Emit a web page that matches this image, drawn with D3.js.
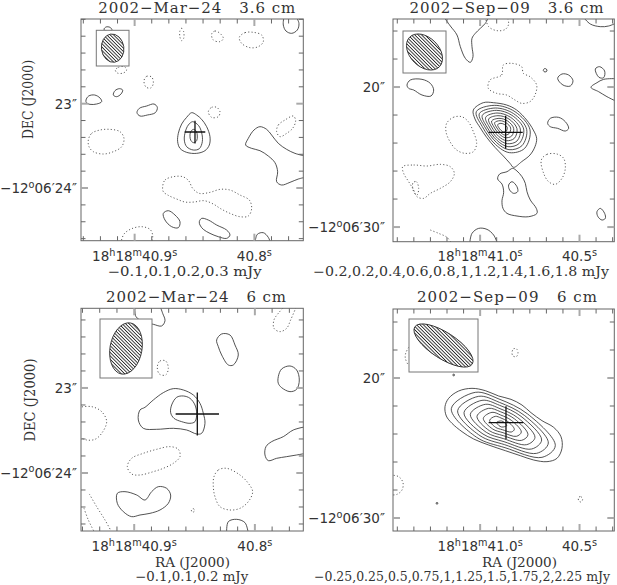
<!DOCTYPE html>
<html><head><meta charset="utf-8">
<script src="https://cdn.jsdelivr.net/npm/d3@7"></script>
<style>body{margin:0;background:#fff}svg{display:block}</style>
</head><body><svg id="c" width="617" height="585"></svg>
<script>
// ---------------- DATA ----------------
const titles = ["2002\u2212Mar\u221224   3.6 cm", "2002\u2212Sep\u221209   3.6 cm", "2002\u2212Mar\u221224   6 cm", "2002\u2212Sep\u221209   6 cm"];
const levelTexts = ["\u22120.1,0.1,0.2,0.3 mJy", "\u22120.2,0.2,0.4,0.6,0.8,1,1.2,1.4,1.6,1.8 mJy", "\u22120.1,0.1,0.2 mJy", "\u22120.25,0.25,0.5,0.75,1,1.25,1.5,1.75,2,2.25 mJy"];
const raMajor = [[40.9, 40.8], [41.0, 40.5], [40.9, 40.8], [41.0, 40.5]];   // RA seconds (18h18m..)
const raMinorStep = [0.1 / 7, 0.5 / 6, 0.1 / 7, 0.5 / 6];
const decMajor = [[23, 24], [20, 30], [23, 24], [20, 30]];                  // Dec arcsec (-12d06m..)
const decMinorStep = [0.2, 2, 0.2, 2];
// map WCS: reference pixel (source position), arcsec per map pixel, RA/Dec at reference pixel
const refPix = [[585, 396], [596, 397], [592, 372], [597, 398]];
const pixScale = [1 / 253, 1 / 42, 1 / 255, 1 / 42];
const refRA = [40.8496, 40.8715, 40.8477, 40.87];
const refDec = [23.336, 23.236, 23.306, 23.19];
const raArcsecPerSec = 14.2;
const mapBounds = [[243, 910, 57, 722], [258, 922, 57, 725], [243, 910, 55, 723], [258, 922, 57, 723]]; // pixel range shown
// beams: major, minor (arcsec), PA (deg)
const beams = [[0.337, 0.266, 8], [3.0, 2.07, 45], [0.61, 0.376, -10], [4.89, 1.86, 57]];
// source position error bars (arcsec): RA half-length, Dec half-length
const crossErr = [[0.122, 0.135], [1.22, 1.18], [0.255, 0.253], [1.24, 1.18]];

// contours in map pixel coordinates
const mar36Pos = [
  [[312,88],[318,81],[330,82],[336,90],[325,95]],
  [[340,285],[345,272],[358,266],[368,270],[363,282],[350,290]],
  [[258,300],[266,288],[284,285],[300,294],[305,305],[290,312],[270,313],[259,308]],
  [[411,338],[418,325],[440,318],[462,312],[472,322],[466,338],[442,345],[420,348]],
  [[575,338],[560,352],[545,372],[535,400],[533,425],[540,445],[560,457],[590,460],[615,452],[628,435],[630,410],[620,380],[605,358],[590,345]],
  [[578,365],[565,375],[556,395],[553,420],[560,440],[580,450],[598,446],[607,425],[605,398],[596,377]],
  [[581,388],[572,395],[570,410],[573,422],[581,428],[590,422],[592,408],[589,394]],
  [[490,640],[505,632],[525,645],[540,665],[535,683],[515,680],[495,660]],
  [[598,665],[605,655],[625,660],[650,675],[680,690],[690,705],[680,715],[655,710],[630,700],[610,688],[600,675]]
];
const mar36PosEdge = [
  [[852,50],[850,75],[858,93],[875,100],[892,90],[897,70],[888,50]],
  [[915,468],[885,460],[860,448],[835,430],[815,405],[800,388],[780,380],[762,390],[745,415],[737,435],[755,445],[780,452],[805,468],[825,488],[833,515],[830,545],[845,555],[870,547],[895,537],[915,532]],
  [[765,730],[772,703],[790,698],[805,712],[812,730]]
];
const mar36Neg = [
  [[540,92],[545,85],[551,95],[551,115],[545,122],[540,112]],
  [[635,102],[645,93],[660,100],[670,115],[660,125],[640,120]],
  [[718,112],[735,98],[760,97],[785,105],[790,125],[775,140],[750,143],[725,130]],
  [[346,210],[355,202],[373,200],[380,210],[370,219],[352,219]],
  [[432,242],[440,229],[455,231],[460,250],[452,264],[438,261]],
  [[625,335],[635,322],[650,322],[660,335],[655,350],[635,352]],
  [[830,395],[835,375],[855,360],[880,348],[887,362],[878,385],[860,400],[840,410]],
  [[265,420],[275,400],[300,390],[330,388],[360,395],[372,415],[365,440],[340,455],[310,462],[280,455],[267,440]],
  [[488,560],[495,540],[520,530],[548,530],[566,542],[578,565],[598,580],[630,577],[660,568],[690,570],[720,585],[748,600],[755,625],[745,648],[720,650],[690,640],[662,626],[640,612],[612,602],[582,606],[555,606],[530,597],[505,586],[490,575]]
];
const mar36NegEdge = [
  [[362,730],[372,702],[395,686],[425,680],[450,688],[458,705],[455,730]]
];

const sep36Pos = [
  [[712,206],[718,207],[720,213],[714,216],[709,212]],
  [[752,235],[765,222],[785,225],[798,242],[790,258],[768,255]],
  [[865,207],[878,200],[893,213],[890,233],[876,232]],
  [[300,255],[310,240],[345,238],[370,250],[380,270],[372,288],[345,285],[320,270],[305,265]],
  [[722,370],[730,355],[755,352],[775,365],[785,385],[775,393],[752,385],[730,380]],
  [[499,330],[529,308],[559,308],[599,315],[629,330],[659,360],[679,390],[689,415],[684,440],[669,465],[644,485],[620,502],[609,490],[589,468],[564,442],[539,412],[519,382],[504,357]],
  [[508,335],[562,316],[624,335],[669,389],[653,445],[608,458],[566,434],[526,380]],
  [[517,341],[565,324],[620,341],[659,388],[645,437],[606,449],[569,428],[533,380]],
  [[526,346],[568,331],[615,346],[650,387],[637,430],[603,440],[571,422],[540,381]],
  [[536,352],[570,339],[611,352],[640,387],[630,423],[601,431],[573,416],[547,381]],
  [[545,357],[573,347],[606,357],[630,386],[622,415],[598,422],[576,410],[554,381]],
  [[554,363],[576,355],[602,363],[620,385],[614,408],[595,413],[578,403],[561,381]],
  [[563,368],[579,362],[597,368],[611,384],[606,401],[593,405],[580,397],[568,381]],
  [[572,374],[582,370],[593,374],[601,383],[598,393],[590,396],[582,391],[575,382]],
  [[617,505],[600,515],[578,522],[572,537],[585,552],[590,577],[585,602],[588,625],[600,640],[630,648],[665,650],[690,640],[688,625],[670,600],[660,575],[655,550],[645,530],[630,513]],
  [[605,555],[615,545],[630,560],[632,575],[620,580],[608,570]],
  [[870,635],[880,625],[893,640],[895,655],[885,660],[873,650]]
];
const sep36PosEdge = [
  [[410,50],[430,78],[450,105],[460,140],[475,175],[490,187],[498,170],[495,140],[495,115],[505,100],[520,85],[535,70],[545,50]],
  [[828,50],[850,72],[880,80],[905,78],[930,68]],
  [[930,305],[900,290],[875,275],[852,262],[870,248],[890,238],[930,236]],
  [[488,732],[495,700],[515,685],[540,688],[560,705],[572,732]]
];
const sep36Neg = [
  [[549,240],[584,225],[589,195],[614,190],[644,200],[649,220],[669,230],[689,255],[684,285],[669,305],[644,310],[624,300],[599,285],[569,280],[544,265]],
  [[419,370],[439,352],[464,350],[484,365],[499,395],[509,430],[499,455],[474,460],[449,450],[429,425],[417,395]],
  [[287,500],[320,495],[360,498],[400,493],[430,500],[442,520],[430,545],[400,565],[370,580],[350,595],[330,590],[320,570],[305,545],[290,520]],
  [[318,548],[328,545],[335,565],[330,585],[320,575]],
  [[703,480],[720,463],[750,462],[770,475],[775,505],[765,535],[745,553],[725,545],[710,520]]
];
const sep36NegEdge = [
  [[535,50],[545,80],[570,92],[595,88],[605,72],[600,50]],
  [[370,690],[395,700],[420,712],[435,732]]
];

const mar6Pos = [
  [[650,150],[665,132],[690,135],[705,165],[715,195],[700,225],[685,225],[665,195],[655,170]],
  [[835,260],[845,237],[870,228],[890,240],[898,270],[890,298],[870,305],[845,293],[835,280]],
  [[420,360],[435,352],[460,330],[490,308],[520,296],[550,300],[580,315],[600,340],[610,370],[615,400],[605,430],[590,432],[560,420],[520,415],[470,418],[430,415],[415,390]],
  [[515,345],[530,322],[550,318],[570,325],[585,345],[590,370],[585,395],[570,400],[545,395],[522,385],[512,368]],
  [[352,610],[375,605],[410,615],[435,630],[455,605],[475,590],[500,595],[512,615],[505,640],[480,660],[450,670],[420,675],[395,680],[370,665],[352,640]]
];
const mar6PosEdge = [
  [[405,48],[408,80],[430,95],[460,103],[485,108],[495,92],[488,70],[480,48]],
  [[918,410],[880,420],[850,440],[815,455],[798,470],[795,495],[805,512],[830,505],[860,500],[890,495],[918,490]],
  [[680,730],[685,695],[710,688],[735,698],[745,730]]
];
const mar6Neg = [
  [[472,230],[480,213],[497,213],[505,235],[497,255],[478,252]],
  [[382,530],[395,505],[430,490],[470,478],[510,470],[535,478],[540,500],[520,520],[490,535],[460,545],[420,555],[395,552]],
  [[642,560],[655,540],[680,535],[720,555],[745,580],[758,605],[745,635],[720,655],[690,660],[660,650],[645,620],[640,590]],
  [[574,660],[580,656],[584,662],[578,667]]
];
const mar6NegEdge = [
  [[855,48],[835,70],[822,90],[822,115],[840,125],[860,115],[872,90],[890,48]],
  [[236,352],[275,350],[305,365],[320,395],[305,430],[285,448],[260,450],[236,440]],
  [[268,612],[290,650],[315,690],[337,730]],
  [[252,655],[265,690],[285,730]]
];

const sep6Pos = [
  [[414,350],[425,325],[455,303],[495,295],[535,302],[575,318],[612,328],[645,345],[672,368],[705,392],[740,412],[762,440],[765,475],[750,505],[720,515],[680,510],[640,497],[595,482],[545,465],[500,447],[465,425],[435,400],[418,378]],
  [[433,356],[505,307],[576,327],[662,372],[745,467],[705,502],[594,473],[509,442]],
  [[452,362],[515,319],[577,337],[652,376],[724,459],[689,490],[593,464],[519,437]],
  [[471,368],[525,331],[578,346],[642,379],[704,450],[674,477],[591,455],[528,432]],
  [[490,373],[535,343],[579,356],[632,383],[684,442],[659,464],[590,446],[538,427]],
  [[510,379],[545,355],[580,365],[623,387],[663,434],[644,451],[589,437],[547,422]],
  [[529,385],[555,367],[581,375],[613,391],[643,426],[628,439],[588,428],[557,417]],
  [[548,391],[565,379],[582,384],[603,395],[622,418],[613,426],[586,419],[566,412]],
  [[569,397],[575,394],[584,393],[593,398],[599,407],[593,410],[584,411],[575,406]],
  [[438,253],[442,253],[442,257],[438,257]],
  [[388,638],[392,638],[392,642],[388,642]]
];
const sep6PosEdge = [];
const sep6Neg = [
  [[615,188],[620,176],[630,178],[633,190],[628,200],[618,198]],
  [[815,622],[822,620],[827,628],[822,636],[815,632]]
];
const sep6NegEdge = [
  [[305,172],[296,190],[295,205],[302,222]],
  [[250,555],[275,560],[288,578],[285,600],[270,613],[250,615]]
];

const contourSets = [
  [mar36Pos, mar36PosEdge, mar36Neg, mar36NegEdge],
  [sep36Pos, sep36PosEdge, sep36Neg, sep36NegEdge],
  [mar6Pos, mar6PosEdge, mar6Neg, mar6NegEdge],
  [sep6Pos, sep6PosEdge, sep6Neg, sep6NegEdge]
];

// ---------------- LAYOUT ----------------
const frames = [
  {x: 81, y: 19, w: 222.3, h: 221.7},
  {x: 393, y: 19, w: 221.3, h: 222.7},
  {x: 81, y: 308.3, w: 222.3, h: 222.7},
  {x: 393, y: 309, w: 221.3, h: 222}
];
const beamBoxes = [
  {x: 96.3, y: 30.3, w: 32.7, h: 35.7},
  {x: 403, y: 31, w: 43, h: 42},
  {x: 100, y: 319, w: 52, h: 59},
  {x: 409, y: 319, w: 69, h: 53}
];
const titleLay = [[196.7, 13, 197], [506.5, 13, 194], [196, 302, 180], [507, 302, 180]];
const levelLay = [[184.7, 276, 154], [461, 276, 296], [191.7, 581, 113], [462, 581, 296]];
const raTickBase = [261, 261, 551, 551];
const decTickRight = [77, 385, 77, 385];

const INK = "#333";
const svg = d3.select("#c");
const defs = svg.append("defs");

function addText(g, x, y, parts, size, anchor, family) {
  const t = g.append("text").attr("x", x).attr("y", y).attr("text-anchor", anchor)
    .attr("font-family", family).attr("font-size", size).attr("fill", INK);
  let shift = 0;
  parts.forEach(([s, sup]) => {
    const want = sup ? -5.5 : 0;
    t.append("tspan").attr("dy", want - shift).attr("font-size", sup ? size * 0.72 : size).text(s);
    shift = want;
  });
  return t;
}

frames.forEach((f, i) => {
  const cd = pixScale[i], rp = refPix[i], mb = mapBounds[i];
  const xS = d3.scaleLinear().domain([(mb[0] - rp[0]) * cd, (mb[1] - rp[0]) * cd]).range([f.x, f.x + f.w]);
  const yS = d3.scaleLinear().domain([(rp[1] - mb[2]) * cd, (rp[1] - mb[3]) * cd]).range([f.y, f.y + f.h]);
  const px = p => xS((p[0] - rp[0]) * cd), py = p => yS((rp[1] - p[1]) * cd);
  const raX = r => xS(-(r - refRA[i]) * raArcsecPerSec);
  const decY = d => yS(-(d - refDec[i]));
  const g = svg.append("g");

  const cid = "clip" + i;
  defs.append("clipPath").attr("id", cid).append("rect").attr("x", f.x).attr("y", f.y).attr("width", f.w).attr("height", f.h);
  const cg = g.append("g").attr("clip-path", `url(#${cid})`);

  const closed = d3.line().x(px).y(py).curve(d3.curveCatmullRomClosed.alpha(0.5));
  const open = d3.line().x(px).y(py).curve(d3.curveCatmullRom.alpha(0.5));
  const [pos, posE, neg, negE] = contourSets[i];
  const style = (sel, dashed) => sel.attr("fill", "none").attr("stroke", dashed ? "#444" : INK)
    .attr("stroke-width", dashed ? 0.9 : 0.85).attr("stroke-dasharray", dashed ? "1.1 2.2" : null);
  style(cg.selectAll(null).data(neg).join("path").attr("d", closed), true);
  style(cg.selectAll(null).data(negE).join("path").attr("d", open), true);
  style(cg.selectAll(null).data(pos).join("path").attr("d", closed), false);
  style(cg.selectAll(null).data(posE).join("path").attr("d", open), false);

  // beam (hatched ellipse in a box)
  const bb = beamBoxes[i], ppa = xS(1) - xS(0);
  const [bmaj, bmin, pa] = beams[i];
  const pat = defs.append("pattern").attr("id", "hatch" + i).attr("patternUnits", "userSpaceOnUse")
    .attr("width", 2.4).attr("height", 2.4).attr("patternTransform", `rotate(${pa - 45})`);
  pat.append("rect").attr("width", 2.4).attr("height", 2.4).attr("fill", "#fff");
  pat.append("line").attr("x1", 0).attr("y1", 0).attr("x2", 0).attr("y2", 2.4)
    .attr("stroke", "#222").attr("stroke-width", 1.7);
  cg.append("rect").attr("x", bb.x).attr("y", bb.y).attr("width", bb.w).attr("height", bb.h)
    .attr("fill", "#fff").attr("stroke", "#777").attr("stroke-width", 1);
  cg.append("ellipse").attr("cx", 0).attr("cy", 0).attr("rx", bmin / 2 * ppa).attr("ry", bmaj / 2 * ppa)
    .attr("transform", `translate(${bb.x + bb.w / 2},${bb.y + bb.h / 2}) rotate(${-pa})`)
    .attr("fill", `url(#hatch${i})`).attr("stroke", "#333").attr("stroke-width", 0.9);

  // source cross
  const [ex, ey] = crossErr[i];
  cg.append("line").attr("x1", xS(-ex)).attr("x2", xS(ex)).attr("y1", yS(0)).attr("y2", yS(0))
    .attr("stroke", "#111").attr("stroke-width", 1.3);
  cg.append("line").attr("x1", xS(0)).attr("x2", xS(0)).attr("y1", yS(ey)).attr("y2", yS(-ey))
    .attr("stroke", "#111").attr("stroke-width", 1.3);

  // frame
  g.append("rect").attr("x", f.x).attr("y", f.y).attr("width", f.w).attr("height", f.h)
    .attr("fill", "none").attr("stroke", "#666").attr("stroke-width", 1);

  // ticks
  const tg = g.append("g");
  const inY = y => y >= f.y - 0.5 && y <= f.y + f.h + 0.5;
  const inX = x => x >= f.x - 0.5 && x <= f.x + f.w + 0.5;
  const tick = (x1, y1, x2, y2, major) => tg.append("line").attr("x1", x1).attr("y1", y1).attr("x2", x2).attr("y2", y2)
    .attr("stroke", major ? "#aaa" : "#666").attr("stroke-width", major ? 2 : 1);
  const dm = decMinorStep[i], d0 = decMajor[i][0];
  d3.range(-40, 41).map(n => d0 + n * dm).forEach(d => {
    const y = decY(d); if (!inY(y)) return;
    const major = decMajor[i].some(v => Math.abs(v - d) < 1e-6);
    const L = major ? 7 : 4.5;
    tick(f.x, y, f.x + L, y, major); tick(f.x + f.w - L, y, f.x + f.w, y, major);
  });
  const rm = raMinorStep[i], r0 = raMajor[i][1];
  d3.range(-40, 41).map(n => r0 + n * rm).forEach(r => {
    const x = raX(r); if (!inX(x)) return;
    const major = raMajor[i].some(v => Math.abs(v - r) < 1e-6);
    const L = major ? 7 : 4.5;
    tick(x, f.y + f.h, x, f.y + f.h - L, major); tick(x, f.y, x, f.y + L, major);
  });

  // tick labels
  raMajor[i].forEach((r, k) => {
    const s = r.toFixed(1);
    const parts = k === 0 ? [["18", 0], ["h", 1], ["18", 0], ["m", 1], [s, 0], ["s", 1]] : [[s, 0], ["s", 1]];
    addText(g, raX(r), raTickBase[i], parts, 13.5, "middle", "DejaVu Sans");
  });
  decMajor[i].forEach((d, k) => {
    const parts = k === 1 ? [["\u221212", 0], ["o", 1], ["06\u2032" + d + "\u2033", 0]] : [[d + "\u2033", 0]];
    addText(g, decTickRight[i], decY(d) + 5, parts, 13.5, "end", "DejaVu Sans");
  });

  // titles and labels
  const tl = titleLay[i];
  g.append("text").attr("x", tl[0]).attr("y", tl[1]).attr("text-anchor", "middle")
    .attr("font-family", "DejaVu Serif").attr("font-size", 15).attr("fill", INK)
    .attr("textLength", tl[2]).attr("lengthAdjust", "spacing").style("white-space", "pre").text(titles[i]);
  const ll = levelLay[i];
  g.append("text").attr("x", ll[0]).attr("y", ll[1]).attr("text-anchor", "middle")
    .attr("font-family", "DejaVu Serif").attr("font-size", 12.5).attr("fill", INK)
    .attr("textLength", ll[2]).attr("lengthAdjust", "spacingAndGlyphs").text(levelTexts[i]);
  if (i % 2 === 0) {
    const cx = i === 0 ? 33 : 35, cy = i === 0 ? 99.5 : 400;
    g.append("text").attr("transform", `translate(${cx},${cy}) rotate(-90)`).attr("text-anchor", "middle")
      .attr("font-family", "DejaVu Serif").attr("font-size", 14).attr("fill", INK)
      .attr("textLength", i === 0 ? 79 : 83).attr("lengthAdjust", "spacingAndGlyphs").text("DEC (J2000)");
  }
  if (i >= 2) {
    g.append("text").attr("x", i === 2 ? 192.5 : 519.5).attr("y", 566.5).attr("text-anchor", "middle")
      .attr("font-family", "DejaVu Serif").attr("font-size", 13).attr("fill", INK)
      .attr("textLength", 75).attr("lengthAdjust", "spacingAndGlyphs").text("RA (J2000)");
  }
});
</script></body></html>
